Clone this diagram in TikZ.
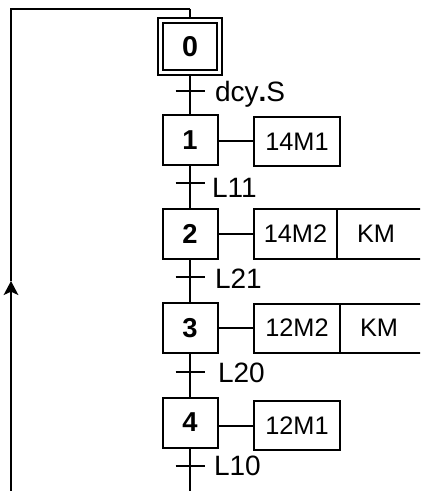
\documentclass[tikz,border=0pt]{standalone}
\usepackage{fontspec}
\setmainfont{Liberation Sans}
\usetikzlibrary{arrows.meta}

\tikzset{every picture/.style={line width=1.5pt}}
\tikzset{
  etape/.style={draw, minimum width=41.25pt, minimum height=37.5pt, inner sep=0.75pt, font=\fontsize{20.5}{24}\selectfont\bfseries},
  etapeinit/.style={etape, double, double distance=2.25pt, outer sep=2.625pt, minimum width=44.25pt, minimum height=39pt, font=\fontsize{21.5}{25}\selectfont\bfseries},
  action/.style={draw, minimum width=64.5pt, minimum height=36.75pt, inner sep=0.75pt, font=\fontsize{19}{22}\selectfont},
  actionsuite/.style={action, anchor=west, outer sep=0pt, minimum width=0pt, text width=45pt, align=left, inner xsep=15pt},
  recept/.style={anchor=base west, inner sep=0.75pt, font=\fontsize{21}{25}\selectfont},
}

\begin{document}
\begin{tikzpicture}[x=0.75pt,y=0.75pt,yscale=-1,xscale=1]

\useasboundingbox (0,0) rectangle (420,491);
\clip (0,0) rectangle (420,491);

% etapes
\draw (190,47) node [etapeinit] (e0) {0};
\draw (190,140) node [etape] (e1) {1};
\draw (190,234) node [etape] (e2) {2};
\draw (190,328) node [etape] (e3) {3};
\draw (190,422.5) node [etape] (e4) {4};

% actions
\draw (297,141.5) node [action] (a1) {14M1};
\draw (295.5,234) node [action, outer sep=0pt, minimum width=62.25pt] (a2) {14M2};
\draw (a2.east) node [actionsuite] (k2) {KM};
\draw (297,328) node [action, outer sep=0pt] (a3) {12M2};
\draw (a3.east) node [actionsuite] (k3) {KM};
\draw (297,425.5) node [action] (a4) {12M1};

\draw (a1.west) -- (a1.west -| e1.east);
\draw (a2.west) -- (a2.west -| e2.east);
\draw (a3.west) -- (a3.west -| e3.east);
\draw (a4.west) -- (a4.west -| e4.east);

% transitions
\coordinate (t0) at (190,91);
\coordinate (t1) at (190,183);
\coordinate (t2) at (190,277);
\coordinate (t3) at (190,372);
\coordinate (t4) at (190,466);

\draw (t0) +(-14.5,0) -- +(14.5,0);
\draw (t1) +(-14.5,0) -- +(14.5,0);
\draw (t2) +(-14.5,0) -- +(14.5,0);
\draw (t3) +(-14.5,0) -- +(14.5,0);
\draw (t4) +(-14.5,0) -- +(14.5,0);

\draw (213,102) node [recept] (r0) {dcy\textbf{.}S};
\draw (210,198) node [recept] (r1) {L11};
\draw (213,288) node [recept] (r2) {L21};
\draw (216,382) node [recept] (r3) {L20};
\draw (212,475) node [recept] (r4) {L10};

% liaisons
\coordinate (haut) at (190,9);
\coordinate (coin) at (11,9);
\coordinate (fleche) at (11,281);
\coordinate (bas) at (11,491);
\coordinate (fin) at (190,491);

\draw (haut) -- (e0);
\draw (e0) -- (e1);
\draw (e1) -- (e2);
\draw (e2) -- (e3);
\draw (e3) -- (e4);
\draw (e4) -- (fin);

\draw [-{Stealth[length=10.5pt,width=11pt,inset=2.5pt]}] (bas) -- (fleche);
\draw (fleche) -- (coin) -- (haut);

\end{tikzpicture}
\end{document}
